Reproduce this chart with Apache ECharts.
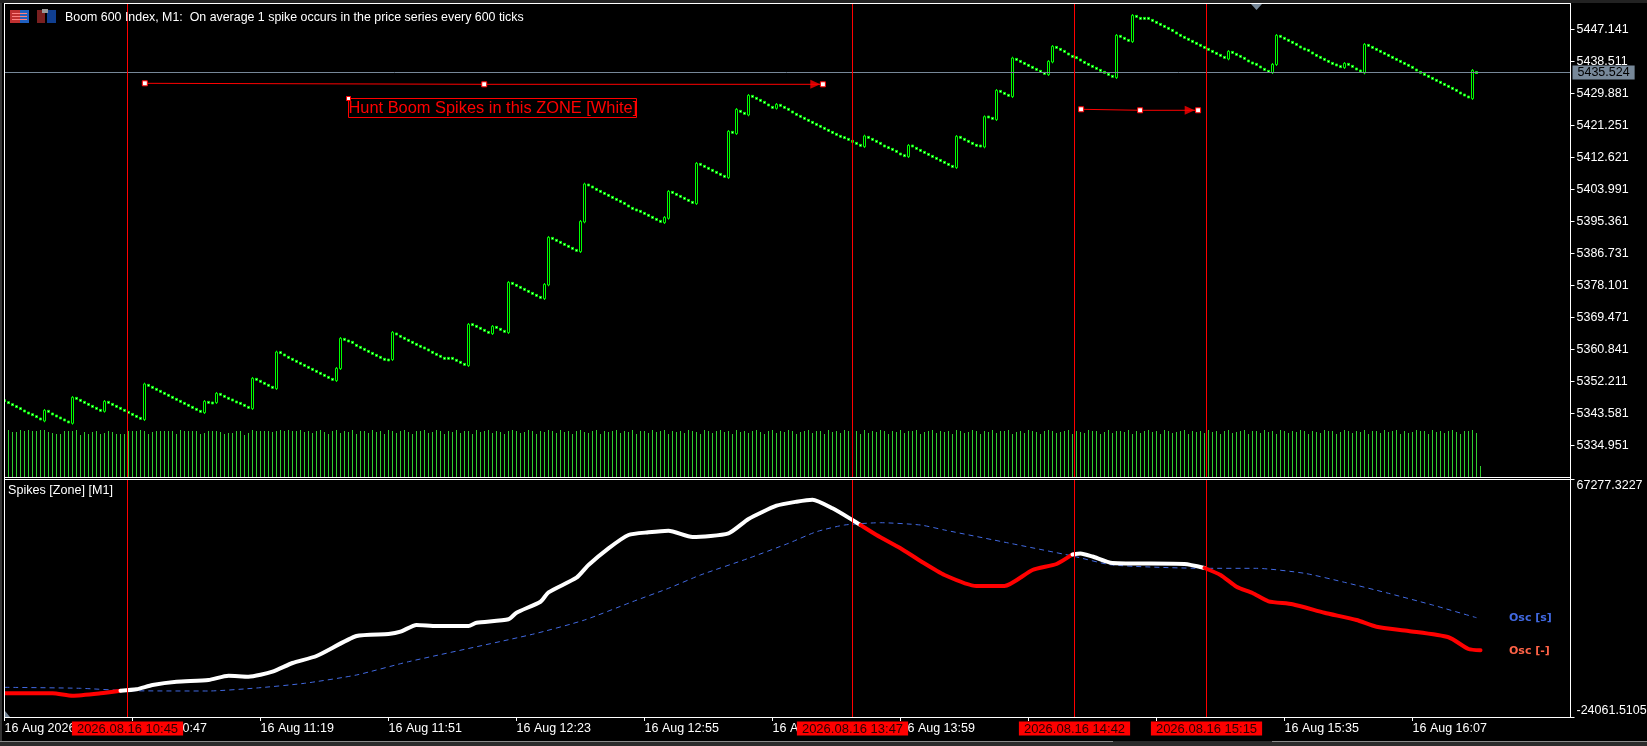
<!DOCTYPE html>
<html><head><meta charset="utf-8">
<style>html,body{margin:0;padding:0;background:#000;overflow:hidden}#c{width:1647px;height:746px}</style>
<script src="https://cdn.jsdelivr.net/npm/echarts@6/dist/echarts.min.js"></script>
</head><body><div id="c"></div>
<script>
const closes=[
5347.04,5346.5,5345.96,5345.42,5344.88,5344.25,5343.7,5343.26,5342.72,5342.1,
5344.43,5344.17,5343.45,5342.9,5342.36,5341.83,5341.29,5347.94,5347.67,5347.13,
5346.59,5346.05,5345.51,5344.97,5344.43,5346.86,5346.59,5346.05,5345.51,5344.97,
5344.43,5343.89,5343.35,5342.81,5342.27,5351.54,5351.18,5350.64,5350.1,5349.56,
5349.02,5348.48,5347.94,5347.4,5346.86,5346.32,5345.78,5345.24,5344.7,5344.16,
5346.86,5346.59,5346.41,5349.02,5348.75,5348.21,5347.67,5347.22,5346.68,5346.32,
5345.78,5345.24,5353.07,5352.8,5352.26,5351.72,5351.18,5350.64,5360.17,5359.99,
5359.36,5358.73,5358.19,5357.65,5357.11,5356.57,5356.03,5355.49,5354.95,5354.41,
5353.87,5353.33,5352.79,5355.76,5363.85,5363.58,5363.13,5362.77,5361.96,5361.42,
5360.88,5360.34,5359.8,5359.26,5358.73,5358.19,5358.01,5365.47,5365.02,5364.39,
5363.85,5363.31,5362.77,5362.23,5361.69,5361.24,5360.7,5360.08,5359.54,5359.0,
5358.46,5358.46,5358.46,5357.92,5357.38,5356.84,5367.63,5367.54,5367.09,5366.55,
5366.01,5365.47,5367.09,5366.82,5366.28,5365.74,5378.95,5378.68,5378.14,5377.6,
5377.06,5376.52,5375.98,5375.44,5374.9,5378.41,5391.09,5390.82,5390.28,5389.74,
5389.2,5388.66,5388.12,5387.58,5395.4,5405.47,5405.2,5404.66,5404.03,5403.49,
5402.95,5402.41,5401.87,5401.33,5400.79,5400.25,5399.54,5398.91,5398.46,5398.1,
5397.56,5397.02,5396.48,5395.94,5395.4,5396.48,5403.49,5403.22,5402.68,5402.14,
5401.6,5401.06,5400.52,5411.05,5410.78,5410.24,5409.7,5409.16,5408.62,5408.08,
5407.54,5419.68,5419.41,5425.61,5425.07,5424.53,5429.39,5429.12,5428.58,5428.04,
5427.5,5426.78,5426.15,5426.96,5426.69,5426.15,5425.61,5424.89,5424.26,5423.72,
5423.18,5422.64,5422.1,5421.56,5421.02,5420.48,5419.94,5419.4,5418.87,5418.33,
5417.97,5417.52,5416.98,5416.44,5415.9,5418.42,5418.06,5417.52,5416.98,5416.44,
5415.72,5415.27,5414.82,5414.28,5413.56,5413.11,5415.9,5415.72,5415.09,5414.55,
5414.01,5413.47,5412.93,5412.39,5411.85,5411.31,5410.77,5410.23,5418.33,5418.06,
5417.52,5416.98,5416.44,5415.9,5415.72,5423.63,5423.54,5423.18,5430.73,5430.46,
5429.92,5429.39,5439.45,5439.09,5438.55,5438.01,5437.47,5436.94,5436.4,5435.86,
5435.32,5438.55,5442.6,5442.33,5441.79,5441.25,5440.53,5439.9,5439.54,5438.91,
5438.28,5437.75,5437.21,5436.67,5436.13,5435.59,5435.05,5434.51,5445.57,5445.3,
5444.76,5444.22,5450.96,5450.69,5450.15,5450.15,5450.15,5449.61,5449.07,5448.53,
5447.99,5447.45,5446.91,5446.2,5445.57,5445.03,5444.49,5443.95,5443.41,5442.87,
5442.33,5441.79,5441.25,5440.71,5440.17,5439.63,5441.25,5440.98,5440.44,5439.9,
5439.36,5438.65,5438.1,5437.75,5437.03,5436.4,5435.86,5437.75,5445.57,5445.3,
5444.76,5444.22,5443.68,5443.14,5442.42,5441.88,5441.52,5440.8,5440.17,5439.63,
5439.09,5438.55,5438.01,5437.57,5437.12,5438.01,5437.75,5437.21,5436.49,5435.95,
5443.14,5442.87,5442.33,5441.79,5441.25,5440.71,5440.17,5439.63,5439.09,5438.55,
5438.01,5437.48,5436.94,5436.22,5435.59,5435.05,5434.51,5433.97,5433.43,5432.89,
5432.35,5431.81,5431.27,5430.73,5430.01,5429.47,5428.94,5436.13,5435.52];

const spikeBars=[10,17,25,35,50,53,62,68,83,84,97,116,122,126,135,136,144,145,165,166,173,181,183,186,193,215,226,238,245,248,252,261,262,278,282,306,317,318,335,340,367];
const spikeOpens=[5341.56,5340.93,5344.16,5341.92,5343.8,5346.5,5344.88,5350.28,5352.43,5355.67,5358.1,5356.48,5365.11,5365.38,5374.54,5378.23,5387.22,5395.22,5395.04,5396.21,5400.17,5407.18,5419.05,5424.08,5425.88,5415.54,5412.84,5409.88,5415.45,5422.82,5429.02,5434.96,5438.37,5434.15,5443.86,5439.18,5435.5,5437.66,5436.85,5435.41,5428.49];

const volumes=[null,
47,45,45,47,46,47,46,46,47,47,45,44,43,43,46,46,46,47,42,45,
43,45,46,43,44,46,45,43,43,43,46,46,46,47,46,43,45,46,46,46,
46,46,43,47,46,46,46,46,43,44,46,46,46,45,43,44,44,46,46,42,
44,47,46,46,46,46,45,46,47,46,47,46,46,47,45,46,44,46,47,45,
43,46,47,44,46,45,47,43,46,46,44,47,45,46,43,47,46,44,46,47,
45,43,46,46,47,44,45,47,46,43,46,45,47,44,46,46,43,47,45,46,
47,44,46,45,43,46,47,46,44,45,47,46,43,46,45,47,46,44,47,45,
46,43,46,47,45,44,46,47,43,46,45,46,47,44,46,45,47,43,46,46,
44,47,45,46,47,43,46,45,46,44,47,46,45,43,47,46,44,46,47,45,
46,43,47,45,46,44,46,47,45,43,46,47,44,46,45,47,46,43,45,46,
47,44,46,46,43,47,45,46,44,47,46,45,46,43,47,44,46,45,47,46,
43,46,45,47,44,46,46,47,43,45,46,47,44,46,45,46,43,47,46,44,
45,47,46,43,46,45,47,44,46,46,47,43,45,46,44,47,46,45,43,46,
47,46,44,45,46,47,43,46,45,44,47,46,46,43,45,47,44,46,46,45,
47,43,46,44,46,47,45,46,43,47,46,44,45,46,47,43,46,45,46,44,
47,45,46,43,46,47,44,45,46,47,43,46,46,44,47,45,46,43,47,46,
44,46,45,47,46,43,46,45,44,47,46,46,43,45,47,46,44,46,45,47,
43,46,46,44,47,45,46,47,43,46,44,45,47,46,46,43,47,45,46,44,
46,47,45,43,46,46,47,44,11];

const oscBars=[0,12,17,24,29,33,37,43,51,56,61,67,72,78,88,96,99,103,108,116,118,126,128,134,136,143,146,151,156,161,166,172,181,186,193,198,202,207,212,214,218,224,229,235,243,250,257,263,267,269,272,277,295,300,304,308,312,316,322,330,338,343,351,361,366,369];
const oscValues=[-14970,-14970,-15890,-14970,-13970,-13430,-11780,-10510,-9860,-8210,-8590,-6680,-3340,-650,7020,7790,8670,11250,10860,10860,12130,13430,15970,20190,23790,29400,34270,40680,45790,46820,47440,45020,46440,51930,57030,58560,59330,56030,51540,49620,45790,40680,35810,30440,26210,26210,32350,34660,38340,38720,37530,35040,34660,33120,30440,25950,23530,20340,19190,15970,13160,10600,8940,6530,2040,1540];
const signalBars=[0,19,31,51,63,75,88,101,132,145,157,166,174,186,196,203,210,219,229,235,251,267,277,300,313,325,335,346,357,368];
const signalValues=[-12670,-13050,-13970,-14080,-12930,-11130,-7940,-2840,7680,13160,20190,25330,30440,36840,42600,47050,49620,50500,49620,47700,42720,37730,34270,33000,33000,31090,27630,23410,18920,14050];
const crossBars=[0,29,214,267,300,369];

const priceTicks=[5447.141,5438.511,5429.881,5421.251,5412.621,5403.991,5395.361,5386.731,5378.101,5369.471,5360.841,5352.211,5343.581,5334.951];
const oscTicks=[-24061.5105,67277.3227];
const lastPrice=5435.524;
const timeLabels=['16 Aug 2026','16 Aug 10:47','16 Aug 11:19','16 Aug 11:51','16 Aug 12:23','16 Aug 12:55','16 Aug 13:27','16 Aug 13:59','16 Aug 14:31','16 Aug 15:03','16 Aug 15:35','16 Aug 16:07'];
const eventBars=[30.75,212,267.5,300.5];
const eventLabels=['2026.08.16 10:45','2026.08.16 13:47','2026.08.16 14:42','2026.08.16 15:15'];
const trendA=[[35.08,5432.63],[119.93,5432.36],[204.6,5432.36]];
const trendB=[[269.16,5425.62],[283.9,5425.35],[298.4,5425.35]];
const arrowHeads=[[202.7,5432.36],[296.3,5425.35]];

const FONT='"Liberation Sans",Arial,sans-serif';
const BARS=392, TICK_STEP=32;
const categories=Array.from({length:BARS},(_,i)=>{const m=615+i;return '16 Aug '+String(Math.floor(m/60)).padStart(2,'0')+':'+String(m%60).padStart(2,'0');});
const spikeOpen=Object.fromEntries(spikeBars.map((b,k)=>[b,spikeOpens[k]]));
const candles=closes.map((c,i)=>{
  const o=spikeOpen[i];
  if(o!==undefined)return [o,c,Math.min(o,c)-0.35,Math.max(o,c)+0.35];
  return [c+0.25,c-0.25,c-0.25,c+0.25];
});
const pairs=(bars,vals)=>bars.map((b,k)=>[b,vals[k]]);
const osc=pairs(oscBars,oscValues);
const oscColors=['#ff0000','#ffffff','#ff0000','#ffffff','#ff0000'];
const oscSeries=oscColors.map((col,k)=>({
  type:'line',xAxisIndex:2,yAxisIndex:2,symbol:'none',silent:true,z:4,smooth:0.2,
  data:osc.filter(p=>p[0]>=crossBars[k]&&p[0]<=crossBars[k+1]),
  lineStyle:{color:col,width:4,cap:'round',join:'round'}
}));
const trend=d=>({type:'line',xAxisIndex:1,yAxisIndex:0,data:d,symbol:'rect',symbolSize:5,showSymbol:true,silent:true,z:6,
  lineStyle:{color:'#ff0000',width:1},itemStyle:{color:'#ffffff',borderColor:'#ff0000',borderWidth:1}});
const vline=(xi,yi,withTags)=>({type:'line',xAxisIndex:xi,yAxisIndex:yi,data:[],silent:true,z:5,
  markLine:{silent:true,symbol:'none',animation:false,precision:4,
    lineStyle:{color:'#ff0000',width:1,type:'solid'},
    label:{show:!!withTags,position:'start',distance:4.5,formatter:p=>eventLabels[eventBars.indexOf(p.value)],
      color:'#2a0000',backgroundColor:'#ff0000',fontFamily:FONT,fontSize:13,padding:[1,5,0,5],lineHeight:13},
    data:eventBars.map(v=>({xAxis:v}))}});

const W='#ffffff';
const frameLine=(x,y,w,h)=>({type:'rect',shape:{x,y,width:w,height:h},style:{fill:W},z:50,silent:true});
const fillRect=(x,y,w,h,fill,z)=>({type:'rect',shape:{x,y,width:w,height:h},style:{fill},z:z||49,silent:true});
const txt=(x,y,text,fill,font)=>({type:'text',x,y,style:{text,fill,font,verticalAlign:'middle'},z:60,silent:true});

const option={
  backgroundColor:'#000',animation:false,
  textStyle:{fontFamily:FONT},
  grid:[{left:2.5,top:4,width:1568,height:473,outerBoundsMode:'none'},{left:2.5,top:479,width:1568,height:238,outerBoundsMode:'none'}],
  xAxis:[
    {type:'category',gridIndex:0,data:categories,show:false},
    {type:'value',gridIndex:0,min:-0.5,max:BARS-0.5,show:false},
    {type:'category',gridIndex:1,data:categories,boundaryGap:true,
      axisLine:{show:false,onZero:false},
      axisTick:{show:true,alignWithLabel:true,length:4,lineStyle:{color:W},interval:i=>i%TICK_STEP===0&&i/TICK_STEP<timeLabels.length},
      axisLabel:{show:true,color:W,fontSize:12.5,align:'left',margin:5,hideOverlap:false,
        interval:i=>i%TICK_STEP===0&&i/TICK_STEP<timeLabels.length,
        formatter:(v,i)=>timeLabels[i/TICK_STEP]||''},
      splitLine:{show:false}},
    {type:'value',gridIndex:1,min:-0.5,max:BARS-0.5,show:false}
  ],
  yAxis:[
    {type:'value',gridIndex:0,position:'right',min:5326.45,max:5454.018,scale:true,
      axisLine:{show:false,onZero:false},splitLine:{show:false},
      axisTick:{show:true,length:4,lineStyle:{color:W},customValues:priceTicks},
      axisLabel:{show:true,color:W,fontSize:12.5,margin:6,customValues:priceTicks,formatter:v=>v.toFixed(3)}},
    {type:'value',gridIndex:0,min:0,max:473,show:false,axisLine:{onZero:false}},
    {type:'value',gridIndex:1,position:'right',min:oscTicks[0],max:oscTicks[1],
      axisLine:{show:false,onZero:false},splitLine:{show:false},
      axisTick:{show:true,length:4,lineStyle:{color:W},customValues:oscTicks},
      axisLabel:{show:true,color:W,fontSize:12.5,margin:6,customValues:oscTicks,formatter:v=>v.toFixed(4),
        verticalAlignMaxLabel:'top',verticalAlignMinLabel:'bottom'}}
  ],
  series:[
    {type:'bar',xAxisIndex:0,yAxisIndex:1,data:volumes,barWidth:1,silent:true,itemStyle:{color:'#2fcc2f'},z:1},
    {type:'candlestick',xAxisIndex:0,yAxisIndex:0,data:candles,barWidth:2,silent:true,z:3,
      itemStyle:{color:'#000000',color0:'#d8ffd8',borderColor:'#00ff00',borderColor0:'#00ff00',borderWidth:1},
      markLine:{silent:true,symbol:'none',animation:false,precision:3,
        lineStyle:{color:'#778899',width:1,type:'solid'},
        label:{position:'end',distance:2,formatter:p=>p.value.toFixed(3),color:'#000',backgroundColor:'#778899',fontFamily:FONT,fontSize:12.5,padding:[1,5,0,5],lineHeight:13},
        data:[{yAxis:lastPrice}]}},
    vline(1,0,false),
    vline(3,2,true),
    trend(trendA),trend(trendB),
    {type:'scatter',xAxisIndex:1,yAxisIndex:0,data:arrowHeads,symbol:'triangle',symbolRotate:-90,symbolSize:[9,10],silent:true,z:6,itemStyle:{color:'#ff0000'}},
    ...oscSeries,
    {type:'line',xAxisIndex:2,yAxisIndex:2,symbol:'none',silent:true,z:3,smooth:0.2,data:pairs(signalBars,signalValues),
      lineStyle:{color:'#4169e1',width:1,type:[5,4]}}
  ],
  graphic:[
    fillRect(0,0,2,746,'#333333'),
    fillRect(2,0,2,746,'#000000'),
    fillRect(0,0,1647,3,'#222222'),
    fillRect(0,741,1647,5,'#2b2b2b'),
    fillRect(0,741,1113,1,'#8a8a8a'),
    fillRect(1272,741,375,1,'#8a8a8a'),
    frameLine(4,3,1567,1),frameLine(4,3,1,715),frameLine(1570,3,1,715),
    frameLine(4,477,1567,1),frameLine(4,479,1567,1),frameLine(4,717,1567,1),
    {type:'polygon',shape:{points:[[1251,4],[1262,4],[1256.5,10]]},style:{fill:'#778899'},z:51,silent:true},
    {type:'polygon',shape:{points:[[5,711],[10,717],[5,717]]},style:{fill:'#778899'},z:51,silent:true},
    fillRect(10,10,10,13,'#c03030',52),fillRect(20,10,9,13,'#2060c0',52),
    fillRect(12,13,15,1,'#ff8080',53),fillRect(12,16,15,1,'#ff8080',53),fillRect(12,19,15,1,'#ff8080',53),
    fillRect(37,10,8,13,'#7a2020',52),fillRect(47,10,9,13,'#103f90',52),fillRect(42,9,6,4,'#999999',53),
    txt(65,17.5,'Boom 600 Index, M1:  On average 1 spike occurs in the price series every 600 ticks',W,'12.4px '+FONT),
    txt(8,491,'Spikes [Zone] [M1]',W,'12.6px '+FONT),
    txt(1509,618,'Osc [s]','#4169e1','bold 11px "DejaVu Sans"'),
    txt(1509,650.7,'Osc [-]','#ff6347','bold 11px "DejaVu Sans"'),
    {type:'rect',shape:{x:348.5,y:98.5,width:288,height:19},style:{fill:'none',stroke:'#ff0000',lineWidth:1},z:55,silent:true},
    {type:'rect',shape:{x:346.5,y:96.5,width:4,height:4},style:{fill:'#fff',stroke:'#ff0000',lineWidth:1},z:56,silent:true},
    txt(348.5,108,'Hunt Boom Spikes in this ZONE [White]','#ff0000','16.4px '+FONT)
  ]
};
const chart=echarts.init(document.getElementById('c'),null,{renderer:'canvas'});
chart.setOption(option);
</script></body></html>
